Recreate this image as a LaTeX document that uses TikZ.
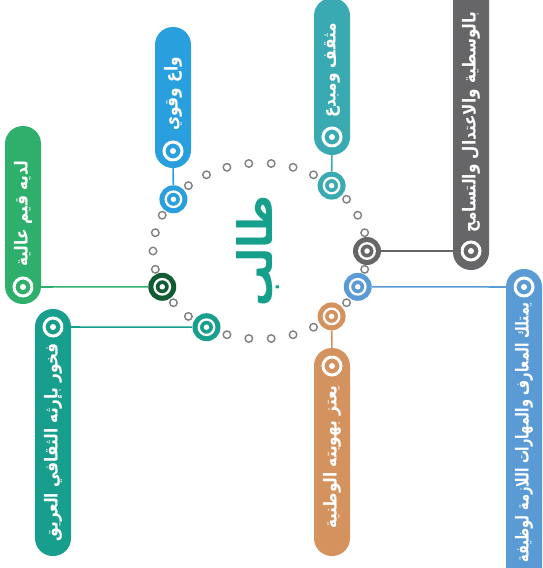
\documentclass[tikz,border=0pt]{standalone}
\usepackage{fontspec}
\newfontfamily\arabicfont[Script=Arabic]{DejaVu Sans}
\TeXXeTstate=1
\usetikzlibrary{positioning}

% colours
\definecolor{cblue}{RGB}{41,160,221}
\definecolor{cteal}{RGB}{58,170,178}
\definecolor{cgray}{RGB}{102,102,104}
\definecolor{csteel}{RGB}{91,155,213}
\definecolor{ctan}{RGB}{212,146,95}
\definecolor{cseagreen}{RGB}{24,158,140}
\definecolor{cgreen}{RGB}{46,176,108}
\definecolor{cdkgreen}{RGB}{16,92,52}
\definecolor{cword}{RGB}{22,160,140}
\definecolor{dotgray}{RGB}{128,128,128}

\newcommand{\artext}[2][0.85]{\scalebox{#1}[1]{\beginR #2\endR}}

\tikzset{
  dotring/.style={circle, draw=dotgray, line width=0.8pt, minimum size=0.15cm, inner sep=0pt},
  hub/.style={circle, inner sep=0pt, minimum size=0.56cm,
    path picture={\draw[white, line width=1.3pt] (path picture bounding box.center) circle (0.155cm);
                  \fill[white] (path picture bounding box.center) circle (0.055cm);}},
  pillring/.style={circle, draw=white, line width=1.7pt, inner sep=0pt, minimum size=0.36cm,
    path picture={\fill[white] (path picture bounding box.center) circle (0.06cm);}},
  pilltext/.style={text=white, rotate=90, inner sep=0pt,
    font=\arabicfont\bfseries\fontsize{10.2}{11}\selectfont},
  link/.style={line width=0.9pt},
}

\begin{document}
\begin{tikzpicture}[x=0.02cm, y=-0.02cm]
  \useasboundingbox (0,0) rectangle (542,568);
  \clip (0,0) rectangle (542,568);

  % Filling pills
  \fill[cblue, rounded corners=0.355cm] (155,27) rectangle (191,168);
  \fill[cteal, rounded corners=0.355cm] (314,-2) rectangle (350,155);
  \fill[cgray, rounded corners=0.355cm] (453,-40) rectangle (489,270);
  \fill[csteel, rounded corners=0.355cm] (506,269) rectangle (542,640);
  \fill[ctan, rounded corners=0.355cm] (314,348) rectangle (350,556);
  \fill[cseagreen, rounded corners=0.355cm] (35,309) rectangle (71,556);
  \fill[cgreen, rounded corners=0.355cm] (5,126) rectangle (41,304);

  % Marking the dotted ring
  \foreach \a in {12,24,36,60,72,84,96,108,120,132,156,168,180,192,216,228,252,264,276,288,300,324,348}
    \node[dotring] (d\a) at ({260+107*cos(\a)},{251-88*sin(\a)}) {};

  % Marking hubs on the ring
  \node[hub, fill=cgray] (hgray) at ({260+107*cos(0)},{251-88*sin(0)}) {};
  \node[hub, fill=cteal] (hteal) at ({260+107*cos(48)},{251-88*sin(48)}) {};
  \node[hub, fill=cblue] (hblue) at ({260+107*cos(144)},{251-88*sin(144)}) {};
  \node[hub, fill=cdkgreen] (hgreen) at ({260+107*cos(204)},{251-88*sin(204)}) {};
  \node[hub, fill=cseagreen] (hseagreen) at ({260+107*cos(240)},{251-88*sin(240)}) {};
  \node[hub, fill=ctan] (htan) at ({260+107*cos(312)},{251-88*sin(312)}) {};
  \node[hub, fill=csteel] (hsteel) at ({260+107*cos(336)},{251-88*sin(336)}) {};

  % Marking rings in the pills
  \node[pillring, fill=cblue] (rblue) at (173,151) {};
  \node[pillring, fill=cteal] (rteal) at (332,137) {};
  \node[pillring, fill=cgray] (rgray) at (471,251) {};
  \node[pillring, fill=csteel] (rsteel) at (524,287) {};
  \node[pillring, fill=ctan] (rtan) at (332,366) {};
  \node[pillring, fill=cseagreen] (rseagreen) at (53,327) {};
  \node[pillring, fill=cgreen] (rgreen) at (23,287) {};

  % Drawing links
  \draw[link, cblue] (hblue) -- (rblue);
  \draw[link, cteal] (hteal) -- (rteal);
  \draw[link, cgray] (hgray) -- (rgray);
  \draw[link, csteel] (hsteel) -- (rsteel);
  \draw[link, ctan] (htan) -- (rtan);
  \draw[link, cseagreen] (hseagreen) -- (rseagreen);
  \draw[link, cgreen] (hgreen) -- (rgreen);

  % Pill texts
  \node[pilltext, anchor=west] (tblue) at (173,131) {\artext{واع وقوي}};
  \node[pilltext, anchor=west] (tteal) at (332,118) {\artext{مثقف ومبدع}};
  \node[pilltext, anchor=west] (tgray) at (471,233) {\artext{بالوسطية والاعتدال والتسامح}};
  \node[pilltext, anchor=east] (tsteel) at (524,302) {\artext[0.72]{يمتلك المعارف والمهارات اللازمة لوظيفة}};
  \node[pilltext, anchor=east] (ttan) at (332,385) {\artext{يعتز بهويته الوطنية}};
  \node[pilltext, anchor=east] (tseagreen) at (53,343) {\artext{فخور بإرثه الثقافي العريق}};
  \node[pilltext, anchor=west] (tgreen) at (23,267) {\artext{لديه قيم عالية}};

  % Centre word
  \node[rotate=90, text=cword, inner sep=0pt,
        font=\arabicfont\bfseries\fontsize{27}{27}\selectfont] (word) at (258,251) {\artext{طالب}};
\end{tikzpicture}
\end{document}
